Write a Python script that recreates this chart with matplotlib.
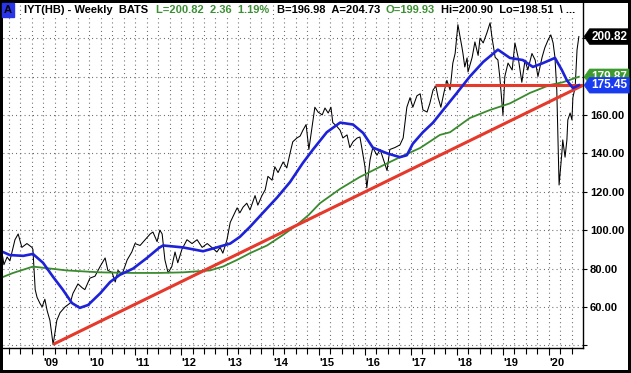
import matplotlib.pyplot as plt
from matplotlib.path import Path
from matplotlib.ticker import FixedLocator, MultipleLocator

plt.rcParams['font.family'] = ['Liberation Sans', 'DejaVu Sans']

# weekly close of IYT (decimal years)
dates = [2008.11, 2008.15, 2008.22, 2008.28, 2008.39, 2008.46, 2008.54, 2008.65, 2008.76, 2008.78,
         2008.83, 2008.87, 2008.93, 2008.98, 2009.04, 2009.09, 2009.15, 2009.22, 2009.30, 2009.37,
         2009.48, 2009.59, 2009.65, 2009.76, 2009.85, 2009.91, 2010.02, 2010.13, 2010.24, 2010.35,
         2010.41, 2010.50, 2010.57, 2010.63, 2010.72, 2010.83, 2010.93, 2011.00, 2011.11, 2011.22,
         2011.33, 2011.39, 2011.48, 2011.54, 2011.59, 2011.65, 2011.72, 2011.80, 2011.87, 2011.93,
         2012.02, 2012.13, 2012.24, 2012.35, 2012.46, 2012.57, 2012.67, 2012.78, 2012.85, 2012.91,
         2013.00, 2013.07, 2013.13, 2013.22, 2013.28, 2013.35, 2013.43, 2013.50, 2013.61, 2013.67,
         2013.76, 2013.83, 2013.89, 2013.98, 2014.04, 2014.11, 2014.22, 2014.30, 2014.37, 2014.43,
         2014.52, 2014.59, 2014.65, 2014.72, 2014.76, 2014.78, 2014.85, 2014.91, 2014.98, 2015.07,
         2015.13, 2015.20, 2015.26, 2015.30, 2015.39, 2015.46, 2015.52, 2015.61, 2015.67, 2015.74,
         2015.83, 2015.89, 2015.93, 2016.00, 2016.04, 2016.11, 2016.17, 2016.26, 2016.33, 2016.39,
         2016.48, 2016.54, 2016.65, 2016.76, 2016.83, 2016.91, 2016.98, 2017.04, 2017.13, 2017.20,
         2017.26, 2017.35, 2017.41, 2017.48, 2017.54, 2017.59, 2017.65, 2017.72, 2017.78, 2017.85,
         2017.91, 2017.96, 2018.02, 2018.11, 2018.13, 2018.17, 2018.22, 2018.24, 2018.33, 2018.39,
         2018.46, 2018.50, 2018.57, 2018.65, 2018.72, 2018.76, 2018.83, 2018.89, 2018.93, 2019.00,
         2019.04, 2019.11, 2019.20, 2019.26, 2019.33, 2019.41, 2019.48, 2019.54, 2019.63, 2019.70,
         2019.76, 2019.85, 2019.91, 2019.98, 2020.04, 2020.09, 2020.13, 2020.17, 2020.20, 2020.22,
         2020.28, 2020.30, 2020.35, 2020.39, 2020.41, 2020.46, 2020.50, 2020.52, 2020.57, 2020.61,
         2020.65]
price = [88, 82, 86, 84, 95, 98, 91, 93, 91, 90,
         69, 65, 62, 60, 64, 58, 53, 40.3, 53, 57,
         60, 62, 67, 72, 70, 69, 75, 76, 81, 85.5,
         79, 78, 73, 79, 77, 84.5, 88.6, 93, 92, 95,
         98, 99, 94, 100, 98, 84.5, 77.7, 81, 88.6, 83,
         90, 95, 93, 95, 91, 93, 91, 88.6, 91, 88,
         95, 104, 107, 111.6, 109, 112, 114, 110.5, 118, 113,
         118, 121, 128, 126, 133, 130, 135.5, 132.4, 140, 146,
         148, 149, 152, 155, 146, 142, 154, 164, 161.5, 160,
         163.6, 161, 164, 156, 154, 152, 148, 149.6, 143, 146,
         148, 148.5, 143, 133, 122, 136.6, 143, 139, 142, 137.6,
         131, 142, 143, 144.4, 148, 164, 169, 164, 170, 171,
         162.6, 161.5, 166, 173, 175, 169, 164, 172, 178, 173,
         187, 192, 207, 195, 192, 185, 189.7, 182.4, 190, 198,
         191, 200, 197.5, 202.7, 208, 200.6, 190, 188.6, 180, 160,
         180, 187, 183.4, 197.5, 190, 177, 188.6, 183.4, 192, 188.6,
         180, 190, 195, 199, 201.7, 197.5, 190, 173, 142, 123.5,
         140, 147, 138, 147, 157.4, 161, 157.4, 169, 174.6, 193.8,
         200.82]

# short moving average (blue)
ma_short_dates = [2008.13, 2008.28, 2008.57, 2008.78, 2009.00, 2009.22, 2009.43, 2009.63, 2009.80, 2009.98,
                  2010.24, 2010.46, 2010.67, 2010.96, 2011.26, 2011.52, 2011.61, 2012.04, 2012.48, 2012.78,
                  2013.07, 2013.28, 2013.50, 2013.78, 2014.09, 2014.37, 2014.65, 2014.87, 2015.17, 2015.46,
                  2015.74, 2015.96, 2016.17, 2016.48, 2016.76, 2016.91, 2017.04, 2017.26, 2017.48, 2017.70,
                  2018.00, 2018.28, 2018.57, 2018.89, 2019.15, 2019.43, 2019.65, 2019.87, 2020.13, 2020.28,
                  2020.39, 2020.52, 2020.65]
ma_short = [88.6, 87, 86.6, 87.6, 83, 75.6, 69, 62, 59.5, 61,
            67, 73, 76.7, 80, 85.5, 90.7, 92, 91, 89, 91,
            93, 96.5, 101.7, 109, 117, 125, 135, 142, 151, 156,
            155, 150.6, 143, 140, 138, 139, 145, 151, 156, 162.6,
            171.5, 180, 187.6, 194, 189.7, 188.6, 185, 187, 189.7, 183.4,
            178, 174, 175.45]

# long moving average (green)
ma_long_dates = [2008.13, 2008.35, 2008.78, 2009.15, 2009.52, 2010.24, 2010.96, 2011.52, 2012.04, 2012.63,
                 2012.91, 2013.22, 2013.50, 2013.87, 2014.22, 2014.52, 2014.78, 2015.02, 2015.46, 2015.89,
                 2016.33, 2016.76, 2017.20, 2017.63, 2017.85, 2018.28, 2018.72, 2019.15, 2019.59, 2020.02,
                 2020.30, 2020.65]
ma_long = [75.6, 77.7, 81, 80, 79, 78, 77.7, 77.7, 78, 79,
           81, 84.5, 88, 92, 97.5, 102.7, 108, 114, 121.5, 127.7,
           133, 138, 142.8, 149.6, 151, 158.4, 162.6, 166, 171.5, 175.6,
           177, 179.87]

# red trendline and horizontal line
trend_dates = [2009.22, 2020.74]
trend_vals = [40.5, 175.45]
flat_dates = [2017.52, 2020.74]
flat_vals = [175.45, 175.45]

years = list(range(2009, 2021))
year_labels = ["'09", "'10", "'11", "'12", "'13", "'14", "'15", "'16", "'17", "'18", "'19", "'20"]
ytick_vals = [40, 60, 80, 100, 120, 140, 160, 180, 200]

W, H = 631, 373
fig = plt.figure(figsize=(W / 100, H / 100), dpi=100, facecolor='white',
                 edgecolor='black', linewidth=4)
ax = fig.add_axes([3 / W, (H - 348) / H, 580 / W, 345 / H])
ax.set_xlim(2008.13, 2020.74)
ax.set_ylim(38.6, 218.3)

ax.plot(dates, price, color='black', lw=0.75, zorder=3)
ax.plot(ma_long_dates, ma_long, color='#3a8a2e', lw=1.3, zorder=4)
ax.plot(trend_dates, trend_vals, color='#e5392b', lw=2.2, zorder=5, solid_capstyle='butt')
ax.plot(flat_dates, flat_vals, color='#e5392b', lw=2.2, zorder=5, solid_capstyle='butt')
ax.plot(ma_short_dates, ma_short, color='#1d22d8', lw=1.9, zorder=6)

# axes styling
for side in ['left', 'top']:
    ax.spines[side].set_visible(False)
ax.spines['bottom'].set_linewidth(1)
ax.spines['right'].set_linewidth(1)
ax.yaxis.tick_right()
ax.set_yticks(ytick_vals)
ax.set_yticklabels(['%.2f' % v if 60 <= v <= 160 else '' for v in ytick_vals],
                   fontsize=8, fontweight='bold')
ax.tick_params(axis='y', length=3, width=0.8, pad=2)
ax.xaxis.set_major_locator(FixedLocator(years))
ax.xaxis.set_minor_locator(MultipleLocator(0.25))
ax.set_xticklabels(year_labels, fontsize=8, fontweight='bold')
for lbl in ax.get_xticklabels():
    lbl.set_ha('left')
ax.tick_params(axis='x', which='major', length=5, width=0.8, pad=2)
ax.tick_params(axis='x', which='minor', length=4, width=0.8)
ax.xaxis.grid(True, which='both', color='#555555', ls=(0, (0.8, 3)), lw=0.8)
ax.yaxis.grid(True, color='#555555', ls=(0, (0.8, 3)), lw=0.8)
ax.set_axisbelow(True)


def tag_box(x0, y0, width, height, mutation_size):
    pad = 0.15 * mutation_size
    x0, y0 = x0 - pad, y0 - pad
    width, height = width + 2 * pad, height + 2 * pad
    tip = height * 0.35
    verts = [(x0 - tip, y0 + height / 2), (x0, y0), (x0 + width, y0),
             (x0 + width, y0 + height), (x0, y0 + height), (x0 - tip, y0 + height / 2)]
    return Path(verts, closed=True)


# price tags on the right edge (green one sits partly under the blue one, as in the source)
tags = [(179.87, '#3c9a2f', 7), (200.82, 'black', 8), (175.45, '#1a3cf0', 9)]
for val, col, z in tags:
    ax.annotate('%.2f' % val, xy=(1.0, val), xycoords=('axes fraction', 'data'),
                xytext=(6, 0), textcoords='offset points', va='center', ha='left',
                color='white', fontsize=8.5, fontweight='bold', annotation_clip=False,
                zorder=z, bbox=dict(boxstyle=tag_box, fc=col, ec=col, lw=0.5))

# header line
ty = 1 - 10 / H
fig.text(4 / W, ty, 'A', fontsize=8, fontweight='bold', color='black', va='center',
         bbox=dict(boxstyle='square,pad=0.2', fc='#2b35e8', ec='#2b35e8'))
header = [(24, 'IYT(HB) - Weekly  BATS', 'black'),
          (156, 'L=200.82  2.36  1.19%', '#3c8f34'),
          (277, 'B=196.98  A=204.73', 'black'),
          (386, 'O=199.93', '#3c8f34'),
          (441, 'Hi=200.90  Lo=198.51  \\ ...', 'black')]
for px, s, col in header:
    fig.text(px / W, ty, s, fontsize=8, fontweight='bold', color=col, va='center',
             bbox=dict(boxstyle='square,pad=0.1', fc='white', ec='none'))

fig.savefig('out.png', dpi=100, facecolor='white', edgecolor='black')
